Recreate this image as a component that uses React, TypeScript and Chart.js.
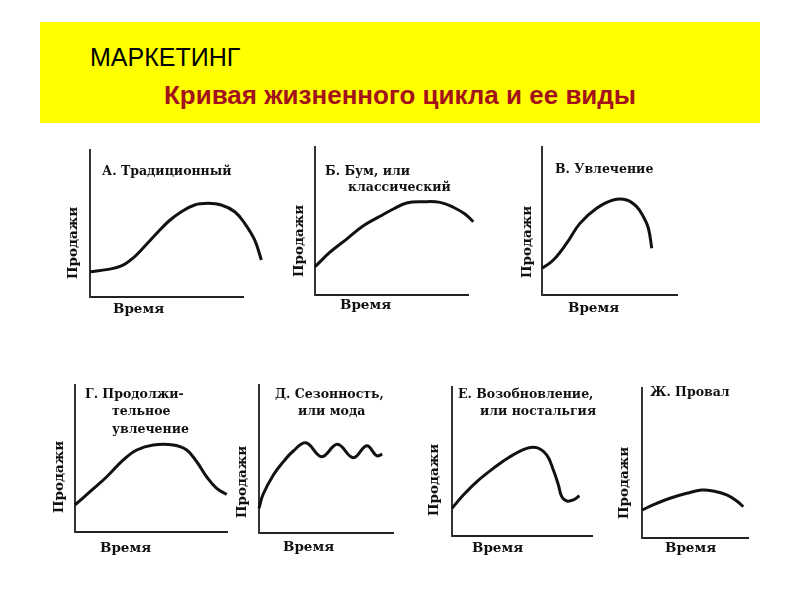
import React, { useEffect, useRef } from "react";
import { Chart, registerables } from "chart.js";

Chart.register(...registerables);

// ---- Data (time in % of x-axis length, sales in % of y-axis height) ----
const timeA = [0, 11.8, 20.5, 28.1, 35.9, 43.8, 51.6, 59.5, 68.4, 77.1, 85.8, 94.6, 101.1, 107.6, 112.0];
const salesA = [17.2, 18.8, 21.1, 26.5, 34.7, 43.5, 51.7, 57.8, 62.6, 63.7, 62.6, 58.0, 50.1, 38.8, 25.2];

const timeB = [0, 9.8, 20.7, 31.6, 42.5, 51.2, 59.9, 70.8, 81.7, 90.4, 98.0, 103.5];
const salesB = [19.1, 28.9, 37.8, 46.8, 53.2, 58.1, 62.2, 63.0, 62.6, 59.3, 54.7, 49.5];

const timeV = [0, 8.4, 18.3, 28.1, 40.5, 52.8, 62.7, 70.1, 75.1, 78.8, 81.3];
const salesV = [18.0, 23.6, 35.0, 48.4, 58.6, 64.2, 64.2, 59.7, 52.9, 45.1, 31.6];

const timeG = [0, 9.9, 20.9, 31.8, 40.6, 51.5, 64.7, 73.5, 80.1, 86.6, 93.2, 99.8];
const salesG = [18.4, 27.4, 37.6, 49.0, 55.8, 59.2, 59.2, 55.8, 47.8, 37.6, 29.7, 25.6];

const timeD = [0, 3, 10.7, 18.2, 25.6, 35, 46.8, 58.5, 70.4, 80.4, 87.8, 92];
const salesD = [16.7, 26, 39.2, 48.2, 55.4, 61, 51.6, 59.9, 50.9, 59, 52.2, 53.2];

const timeE = [0, 8.1, 17.6, 29.5, 41.4, 53.4, 60.5, 67.6, 72.4, 76.0, 78.4, 82.0, 86.7, 91.0];
const salesE = [18.6, 27.5, 36.4, 45.4, 53.2, 58.8, 59.3, 54.4, 44.3, 34.2, 26.4, 23.5, 24.2, 27.0];

const timeZh = [0, 13.9, 26.4, 42.2, 56.3, 67.3, 79.9, 89.3, 95.6];
const salesZh = [18.7, 23.1, 26.5, 29.8, 32.0, 31.3, 28.7, 24.7, 20.9];

const titleA = ["А. Традиционный"];
const titleB = ["Б. Бум, или", "классический"];
const titleV = ["В. Увлечение"];
const titleG = ["Г. Продолжи-", "тельное", "увлечение"];
const titleD = ["Д. Сезонность,", "или мода"];
const titleE = ["Е. Возобновление,", "или ностальгия"];
const titleZh = ["Ж. Провал"];

const yAxisLabel = "Продажи";
const xAxisLabel = "Время";

const headerTop = "МАРКЕТИНГ";
const headerMain = "Кривая жизненного цикла и ее виды";

// ---- Layout (pixel geometry of each small panel) ----
type Spec = {
  time: number[];
  sales: number[];
  title: string[];
  axisX: number;
  axisTop: number;
  axisEnd: number;
  bottom: number;
  titlePos: [number, number][];
  yl: [number, number];
  xl: [number, number];
};

const panels: Spec[] = [
  { time: timeA, sales: salesA, title: titleA, axisX: 90, axisTop: 150, axisEnd: 243, bottom: 297, titlePos: [[12, 22]], yl: [-17, -54], xl: [23, 12] },
  { time: timeB, sales: salesB, title: titleB, axisX: 315, axisTop: 147, axisEnd: 468, bottom: 295, titlePos: [[10, 25], [33, 41]], yl: [-16, -54], xl: [25, 10] },
  { time: timeV, sales: salesV, title: titleV, axisX: 542, axisTop: 147, axisEnd: 677, bottom: 295, titlePos: [[13, 23]], yl: [-15, -53], xl: [26, 13] },
  { time: timeG, sales: salesG, title: titleG, axisX: 75, axisTop: 385, axisEnd: 227, bottom: 532, titlePos: [[10, 10], [37, 27], [37, 45]], yl: [-16, -55], xl: [25, 16] },
  { time: timeD, sales: salesD, title: titleD, axisX: 259, axisTop: 385, axisEnd: 393, bottom: 533, titlePos: [[16, 10], [39, 27]], yl: [-17, -51], xl: [24, 14] },
  { time: timeE, sales: salesE, title: titleE, axisX: 452, axisTop: 387, axisEnd: 592, bottom: 536, titlePos: [[6, 8], [28, 25]], yl: [-18, -56], xl: [20, 12] },
  { time: timeZh, sales: salesZh, title: titleZh, axisX: 642, axisTop: 388, axisEnd: 748, bottom: 538, titlePos: [[8, 5]], yl: [-18, -55], xl: [23, 10] },
];

const PAD_L = 45;
const PAD_T = 6;
const PAD_R = 32;
const PAD_B = 30;
const INK = "#111";

function makeTextPlugin(spec: Spec) {
  return {
    id: "panelText",
    afterDraw(chart: any) {
      const { ctx, chartArea: a } = chart;
      ctx.save();
      ctx.fillStyle = INK;
      ctx.textBaseline = "middle";
      ctx.textAlign = "left";
      ctx.font = 'bold 12.5px "DejaVu Serif"';
      spec.title.forEach((t, i) => {
        const p = spec.titlePos[i];
        ctx.fillText(t, a.left + p[0], a.top + p[1]);
      });
      ctx.font = 'bold 13.5px "DejaVu Serif"';
      ctx.fillText(xAxisLabel, a.left + spec.xl[0], a.bottom + spec.xl[1]);
      ctx.translate(a.left + spec.yl[0], a.bottom + spec.yl[1]);
      ctx.rotate(-Math.PI / 2);
      ctx.textAlign = "center";
      ctx.fillText(yAxisLabel, 0, 0);
      ctx.restore();
    },
  };
}

function Panel({ spec }: { spec: Spec }) {
  const ref = useRef<HTMLCanvasElement>(null);
  const w = PAD_L + (spec.axisEnd - spec.axisX) + PAD_R;
  const h = PAD_T + (spec.bottom - spec.axisTop) + PAD_B;

  useEffect(() => {
    if (!ref.current) return;
    const chart = new Chart(ref.current, {
      type: "line",
      data: {
        datasets: [
          {
            data: spec.time.map((t, i) => ({ x: t, y: spec.sales[i] })),
            borderColor: INK,
            borderWidth: 3,
            pointRadius: 0,
            tension: 0.4,
            fill: false,
            clip: false as any,
          },
        ],
      },
      options: {
        animation: false,
        responsive: false,
        events: [],
        layout: { padding: { left: PAD_L, top: PAD_T, right: PAD_R, bottom: PAD_B } },
        plugins: { legend: { display: false }, tooltip: { enabled: false }, title: { display: false } },
        scales: {
          x: {
            type: "linear",
            bounds: "data",
            afterDataLimits: (s: any) => {
              s.min = 0;
              s.max = 100;
            },
            grid: { display: false },
            ticks: { display: false },
            border: { display: true, color: "#222", width: 2 },
            afterFit: (s: any) => {
              s.height = 0;
            },
          },
          y: {
            type: "linear",
            min: 0,
            max: 100,
            grid: { display: false },
            ticks: { display: false },
            border: { display: true, color: "#333", width: 2 },
            afterFit: (s: any) => {
              s.width = 0;
            },
          },
        },
      } as any,
      plugins: [makeTextPlugin(spec)],
    });
    return () => chart.destroy();
  }, [spec]);

  return (
    <canvas
      ref={ref}
      width={w}
      height={h}
      style={{ position: "absolute", left: spec.axisX - PAD_L, top: spec.axisTop - PAD_T, width: w, height: h }}
    />
  );
}

export default function App() {
  return (
    <div style={{ position: "fixed", left: 0, top: 0, width: 800, height: 600, background: "#fff", overflow: "hidden" }}>
      <div style={{ position: "absolute", left: 40, top: 22, width: 720, height: 101, background: "#ffff00" }}>
        <div
          style={{
            position: "absolute",
            left: 50,
            top: 21,
            font: '25px "Liberation Sans", Arial, sans-serif',
            lineHeight: "28px",
            color: "#000",
            whiteSpace: "nowrap",
          }}
        >
          {headerTop}
        </div>
        <div
          style={{
            position: "absolute",
            left: 0,
            width: 720,
            top: 58,
            textAlign: "center",
            font: 'bold 26px "Liberation Sans", Arial, sans-serif',
            lineHeight: "30px",
            color: "#a3121a",
            whiteSpace: "nowrap",
          }}
        >
          {headerMain}
        </div>
      </div>
      {panels.map((p, i) => (
        <Panel key={i} spec={p} />
      ))}
    </div>
  );
}
